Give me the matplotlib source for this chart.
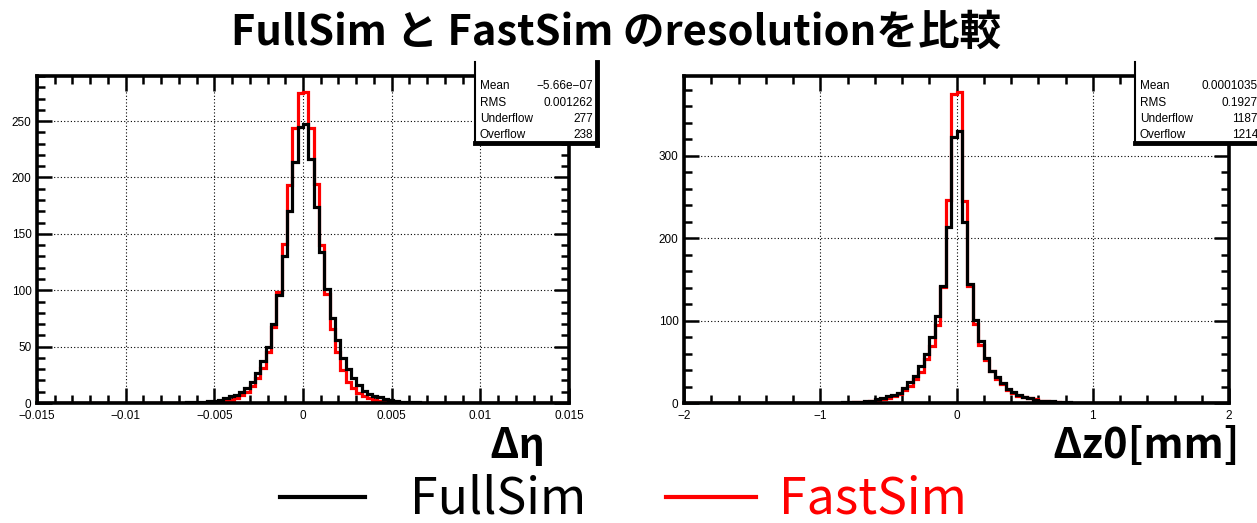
import numpy as np
import matplotlib.pyplot as plt
from matplotlib.lines import Line2D
from matplotlib.patches import Rectangle
from matplotlib.ticker import MultipleLocator

W, H = 1257, 523

# delta-eta histograms: 100 bins on [-0.015, 0.015]; non-empty bins listed from bin offset
eta_edges = np.linspace(-0.015, 0.015, 101)
eta_full_start = -22
eta_full = [0.5, 0.5, 1, 1, 1.5, 2, 3, 4, 6, 7, 10, 13, 19, 27, 37, 50, 70, 96, 130, 170,
            214, 245, 247, 216, 174, 134, 101, 75, 56, 40, 30, 22, 16, 11, 8, 6, 5, 3.5,
            2.5, 1.5, 1, 1, 0.5, 0.5]
eta_fast_start = -19
eta_fast = [0.3, 0.5, 0.7, 1, 2, 3, 4, 7, 10, 15, 22, 31, 45, 67, 98, 141, 193, 244, 275,
            276, 244, 194, 140, 97, 66, 45, 29, 19, 13, 9, 6, 4, 2.5, 1.5, 1, 0.7, 0.5, 0.3]
eta_stats = [("Mean", "\u22125.66e\u221207"), ("RMS", "0.001262"),
             ("Underflow", "277"), ("Overflow", "238")]

# delta-z0 histograms: 100 bins on [-2, 2]
z0_edges = np.linspace(-2, 2, 101)
z0_full_start = -22
z0_full = [0.5, 1, 1, 1.5, 1.5, 2, 3, 4.5, 6.5, 8, 10, 12.5, 18, 25, 33, 45, 60, 80, 106,
           142, 214, 323, 330, 220, 145, 101, 75, 55, 39, 31, 24, 17, 13, 10, 7, 5.5, 4,
           3, 2.5, 2, 1.5, 1, 1, 0.5]
z0_fast_start = -20
z0_fast = [0.5, 0.7, 1, 1.5, 2, 3, 4.5, 6, 8, 11, 16, 21, 29, 38, 53, 69, 95, 141, 247,
           375, 377, 245, 142, 96, 70, 52, 39, 29, 23, 16, 12, 9, 7, 5.5, 4.5, 3, 2, 1.5,
           1, 0.5]
z0_stats = [("Mean", "0.0001035"), ("RMS", "0.1927"),
            ("Underflow", "1187"), ("Overflow", "1214")]


def fill_bins(nbins, start, vals):
    h = np.zeros(nbins)
    i0 = nbins // 2 + start
    h[i0:i0 + len(vals)] = vals
    return h


def px(x, y):
    return x / W, 1 - y / H


def frame(ax, xmaj, xmin, ymaj, ymin):
    ax.xaxis.set_major_locator(MultipleLocator(xmaj))
    ax.xaxis.set_minor_locator(MultipleLocator(xmin))
    ax.yaxis.set_major_locator(MultipleLocator(ymaj))
    ax.yaxis.set_minor_locator(MultipleLocator(ymin))
    ax.tick_params(which='both', direction='in', top=True, right=True,
                   labelsize=8.5, width=1.8)
    ax.tick_params(axis='x', pad=5)
    ax.tick_params(axis='y', pad=4)
    ax.tick_params(which='major', length=11)
    ax.tick_params(which='minor', length=6)
    for s in ax.spines.values():
        s.set_linewidth(2.6)
    ax.grid(True, which='major', linestyle=(0, (1, 2)), color='black', linewidth=0.8)
    ax.set_axisbelow(True)


def stats_box(x0, x1, y0, y1, rows):
    fig.add_artist(Rectangle(px(x0, y1), (x1 - x0) / W, (y1 - y0) / H,
                             transform=fig.transFigure, facecolor='white',
                             edgecolor='none', zorder=5))
    for xs, ys, lw in [((x0, x0), (y0, y1), 1.5), ((x1, x1), (y0, y1 + 2), 3.5),
                       ((x0, x1), (y1, y1), 3.5)]:
        fig.add_artist(Line2D([x / W for x in xs], [1 - y / H for y in ys],
                              transform=fig.transFigure, color='black', lw=lw, zorder=6))
    for k, (name, val) in enumerate(rows):
        y = 86 + 16.5 * k
        fig.text(*px(x0 + 5, y), name, family='Liberation Sans', fontsize=8.5,
                 va='center', ha='left', zorder=7)
        fig.text(*px(x1 - 4, y), val, family='Liberation Sans', fontsize=8.5,
                 va='center', ha='right', zorder=7)


fig = plt.figure(figsize=(W / 100, H / 100), dpi=100)
fig.patch.set_facecolor('white')

# left: delta eta
ax1 = fig.add_axes([37 / W, 1 - 403 / H, (569 - 37) / W, (403 - 76) / H])
ax1.stairs(fill_bins(100, eta_fast_start, eta_fast), eta_edges, color='red', lw=2.3)
ax1.stairs(fill_bins(100, eta_full_start, eta_full), eta_edges, color='black', lw=2.3)
ax1.set_xlim(-0.015, 0.015)
ax1.set_ylim(0, 290)
frame(ax1, 0.005, 0.001, 50, 10)
ax1.set_xticks([-0.015, -0.01, -0.005, 0, 0.005, 0.01, 0.015],
               ['\u22120.015', '\u22120.01', '\u22120.005', '0', '0.005', '0.01', '0.015'])

# right: delta z0
ax2 = fig.add_axes([684 / W, 1 - 403 / H, (1229 - 684) / W, (403 - 76) / H])
ax2.stairs(fill_bins(100, z0_fast_start, z0_fast), z0_edges, color='red', lw=2.3)
ax2.stairs(fill_bins(100, z0_full_start, z0_full), z0_edges, color='black', lw=2.3)
ax2.set_xlim(-2, 2)
ax2.set_ylim(0, 397)
frame(ax2, 1, 0.2, 100, 20)
ax2.set_xticks([-2, -1, 0, 1, 2], ['\u22122', '\u22121', '0', '1', '2'])

for ax in (ax1, ax2):
    for lab in ax.get_xticklabels() + ax.get_yticklabels():
        lab.set_family('Liberation Sans')

stats_box(475, 597, 62, 143, eta_stats)
stats_box(1135, 1262, 62, 143, z0_stats)

jp = ['Noto Sans CJK JP', 'DejaVu Sans']
fig.text(*px(616, 33), 'FullSim と FastSim のresolutionを比較', family=jp,
         fontsize=30, fontweight='bold', ha='center', va='center')
fig.text(*px(545, 446), 'Δη', family=jp, fontsize=30, fontweight='bold',
         ha='right', va='center')
fig.text(*px(1240, 446), 'Δz0[mm]', family=jp, fontsize=30, fontweight='bold',
         ha='right', va='center')

# legend
fig.add_artist(Line2D([280 / W, 365 / W], [1 - 497 / H] * 2, transform=fig.transFigure,
                      color='black', lw=3))
fig.text(*px(410, 499), 'FullSim', family=jp, fontsize=36, ha='left', va='center')
fig.add_artist(Line2D([666 / W, 756 / W], [1 - 497 / H] * 2, transform=fig.transFigure,
                      color='red', lw=3))
fig.text(*px(779, 499), 'FastSim', family=jp, fontsize=36, color='red',
         ha='left', va='center')

fig.savefig('out.png', dpi=100)
